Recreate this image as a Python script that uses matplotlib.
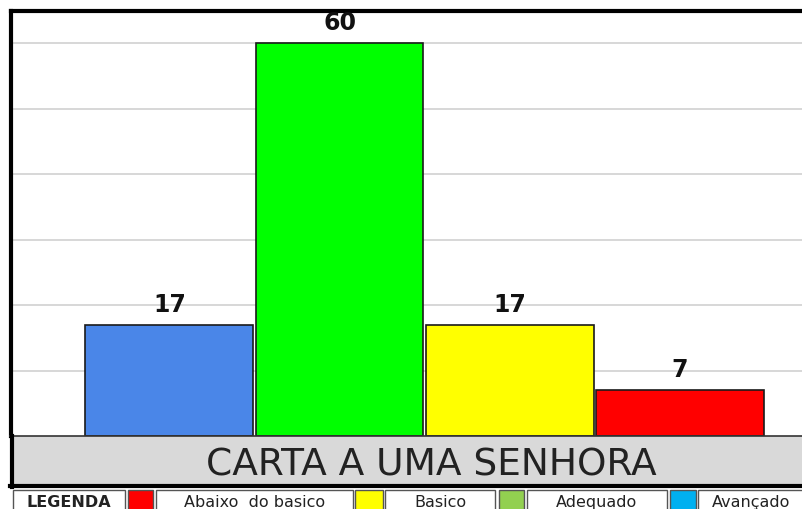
import matplotlib.pyplot as plt
from matplotlib.patches import Rectangle

# dados do grafico
categorias = ['Avançado', 'Adequado', 'Basico', 'Abaixo do basico']
valores = [17, 60, 17, 7]
cores_barras = ['#4a86e8', '#00ff00', '#ffff00', '#ff0000']
titulo = 'CARTA A UMA SENHORA'

legenda_nomes = ['Abaixo  do basico', 'Basico', 'Adequado', 'Avançado']
legenda_cores = ['#ff0000', '#ffff00', '#92d050', '#00b0f0']

W, H = 802, 510


def fx(px):
    return px / W


def fy(py):
    return 1 - py / H


fig = plt.figure(figsize=(W / 100, H / 100), dpi=100)

# eixo principal com as barras
ax = fig.add_axes([fx(11), fy(437), fx(802 - 11), fy(12) - fy(437)])
x = range(len(valores))
ax.bar(x, valores, width=0.985, color=cores_barras, edgecolor='#1a1a1a',
       linewidth=1.2, zorder=3)
for xi, v in zip(x, valores):
    ax.text(xi, v + 1.4, str(v), ha='center', va='bottom', fontsize=17,
            fontweight='heavy', family='DejaVu Sans', color='#111111',
            zorder=4)
ax.set_xlim(-0.93, 3.716)
ax.set_ylim(0, 64.9)
ax.set_yticks(range(10, 61, 10))
ax.yaxis.grid(True, color='#d4d4d4', linewidth=1.3, zorder=0)
ax.set_xticks([])
ax.tick_params(left=False, labelleft=False)
ax.spines['right'].set_visible(False)
ax.spines['bottom'].set_visible(False)
ax.spines['top'].set_linewidth(3)
ax.spines['left'].set_linewidth(3)

# faixa cinza com o titulo
fig.patches.append(Rectangle((fx(10), fy(487)), fx(800), fy(437) - fy(487),
                             transform=fig.transFigure, facecolor='#d9d9d9',
                             edgecolor='none', zorder=1))
fig.lines.append(plt.Line2D([fx(10), fx(802)], [fy(437), fy(437)],
                            transform=fig.transFigure, color='#333333', lw=1.2))
fig.lines.append(plt.Line2D([fx(10), fx(802)], [fy(487), fy(487)],
                            transform=fig.transFigure, color='#000000', lw=3))
fig.lines.append(plt.Line2D([fx(11.5), fx(11.5)], [fy(437), fy(488)],
                            transform=fig.transFigure, color='#000000', lw=3))
fig.text(fx(431), fy(466), titulo, ha='center', va='center', fontsize=27,
         family='DejaVu Sans', color='#222222')

# linha da legenda
caixas = [(13, 125), (156, 353), (385, 495), (527, 667), (698, 804)]
amostras = [(128, 153), (355, 383), (499, 524), (670, 696)]
y0, y1 = 491, 512
textos = ['LEGENDA'] + legenda_nomes
for i, (a, b) in enumerate(caixas):
    fig.patches.append(Rectangle((fx(a), fy(y1)), fx(b - a), fy(y0) - fy(y1),
                                 transform=fig.transFigure, facecolor='white',
                                 edgecolor='#555555', lw=1))
    fig.text(fx((a + b) / 2), fy(503), textos[i], ha='center', va='center',
             fontsize=11.5, family='DejaVu Sans',
             fontweight='bold' if i == 0 else 'normal', color='#222222')
for (a, b), c in zip(amostras, legenda_cores):
    fig.patches.append(Rectangle((fx(a), fy(y1)), fx(b - a), fy(y0) - fy(y1),
                                 transform=fig.transFigure, facecolor=c,
                                 edgecolor='#555555', lw=1))

fig.savefig('out.png', dpi=100)
